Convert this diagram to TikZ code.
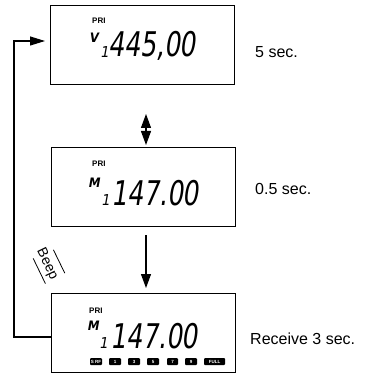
\documentclass[tikz,border=0pt]{standalone}
\usepackage{fontspec}
\setmainfont{Liberation Sans}
\newfontfamily\lcdfont[FakeSlant=0.18]{DejaVu Sans Condensed}
\usetikzlibrary{arrows.meta}
\begin{document}
\begin{tikzpicture}[x=1pt,y=-1pt,
  lcdbox/.style={draw, line width=0.9pt, inner sep=0pt, minimum width=184pt, minimum height=79pt},
  pri/.style={anchor=base west, inner sep=0pt, font=\bfseries\fontsize{8}{8}\selectfont},
  mode/.style={anchor=base west, inner sep=0pt, font=\lcdfont\bfseries\fontsize{13}{13}\selectfont},
  small/.style={anchor=base west, inner sep=0pt, font=\lcdfont\fontsize{15}{15}\selectfont},
  digits/.style={anchor=base west, inner sep=0pt, font=\lcdfont\fontsize{34}{34}\selectfont},
  side/.style={anchor=base west, inner sep=0pt, font=\fontsize{16}{16}\selectfont},
  ind/.style={fill=black, rounded corners=1pt, inner sep=0pt, minimum height=7pt, text=white, font=\bfseries\fontsize{4.5}{4.5}\selectfont},
  arr/.style={line width=1.1pt, -{Triangle[length=15pt,width=9pt]}},
  darr/.style={line width=1.1pt, {Triangle[length=14pt,width=10pt]}-{Triangle[length=14pt,width=10pt]}},
  darw/.style={line width=1.1pt, -{Triangle[length=14pt,width=10pt]}}
]
\useasboundingbox (0,0) rectangle (364,374);

% boxes
\node[lcdbox] (b1) at (142.5,44.5) {};
\node[lcdbox] (b2) at (143,187) {};
\node[lcdbox] (b3) at (143,332.5) {};

% box 1 contents
\node[pri] (p1) at (92,24) {PRI};
\node[mode] (m1) at (89,43) {V};
\node[small] (s1) at (100,58) {1};
\node[digits] (d1) at (108,57) {\scalebox{0.82}[1]{445,00}};

% box 2 contents
\node[pri] (p2) at (92,166) {PRI};
\node[mode] (m2) at (88,187) {M};
\node[small] (s2) at (101,205) {1};
\node[digits] (d2) at (111,205) {\scalebox{0.82}[1]{147.00}};

% box 3 contents
\node[pri] (p3) at (89,313) {PRI};
\node[mode] (m3) at (87,330) {M};
\node[small] (s3) at (99,348) {1};
\node[digits] (d3) at (110,348) {\scalebox{0.82}[1]{147.00}};

% indicator row
\node[ind, minimum width=12pt] (i1) at (96,361.5) {S RF};
\node[ind, minimum width=12pt] (i2) at (115,361.5) {1};
\node[ind, minimum width=12pt] (i3) at (134,361.5) {3};
\node[ind, minimum width=12pt] (i4) at (153,361.5) {5};
\node[ind, minimum width=11pt] (i5) at (172.5,361.5) {7};
\node[ind, minimum width=12pt] (i6) at (191,361.5) {9};
\node[ind, minimum width=21pt] (i7) at (214.5,361.5) {FULL};

% side labels
\node[side] (t1) at (255,58) {5 sec.};
\node[side] (t2) at (255,194) {0.5 sec.};
\node[side] (t3) at (250,344) {Receive 3 sec.};

% connectors
\coordinate (da1) at (146,114);
\coordinate (da2) at (146,145);
\draw[darr] (da1) -- (da2);
\coordinate (dn1) at (146,235);
\coordinate (dn2) at (146,288);
\draw[darw] (dn1) -- (dn2);

\coordinate (fb) at (b3.west |- 0,337);
\coordinate (fc1) at (14,337);
\coordinate (fc2) at (14,41);
\coordinate (fe) at (45,41);
\draw[arr] (fb) -- (fc1) -- (fc2) -- (fe);

% Beep label
\node[rotate=-64, inner sep=0pt, font=\fontsize{14}{14}\selectfont] (beep) at (47,264) {Beep};
\draw[line width=0.8pt] (33.2,258.4) -- (45.4,283.6);
\draw[line width=0.8pt] (53.4,249.8) -- (64.8,273.2);
\end{tikzpicture}
\end{document}
